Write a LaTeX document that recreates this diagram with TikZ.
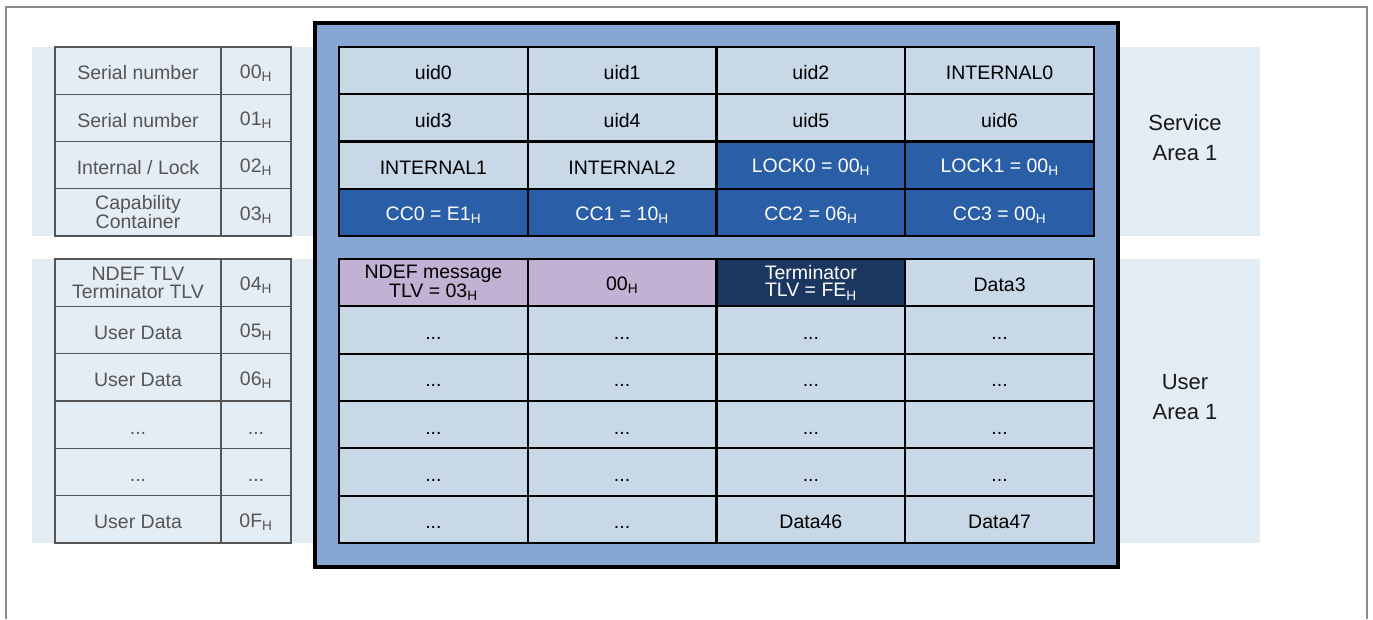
\documentclass[tikz,border=0pt]{standalone}
\usepackage{fontspec}
\setmainfont{Liberation Sans}
\definecolor{frameline}{HTML}{8C8C8C}
\definecolor{bandfill}{HTML}{E4ECF4}
\definecolor{boxfill}{HTML}{87A6D3}
\definecolor{cellfill}{HTML}{C8D8E7}
\definecolor{lockfill}{HTML}{2A5EA6}
\definecolor{ndeffill}{HTML}{C1B1D3}
\definecolor{termfill}{HTML}{1B375F}
\definecolor{addrtext}{HTML}{555555}
\newcommand{\hx}[1]{#1\textsubscript{H}}

\begin{document}
\begin{tikzpicture}
                     [x=1pt,y=-1pt,every node/.style={rectangle,inner sep=0pt,align=center,font=\fontsize{19.5}{17.5}\selectfont},
                      lcell/.style={draw=addrtext,line width=1.2pt,fill=bandfill,text=addrtext,minimum width=166,minimum height=47.3,text height=18.6pt},
                      acell/.style={lcell,minimum width=70},
                      cell/.style={draw=black,line width=2.2pt,fill=cellfill,minimum width=188.75,minimum height=47.3,text height=18.6pt},
                      lock/.style={cell,fill=lockfill,text=white},
                      ndef/.style={cell,fill=ndeffill},
                      term/.style={cell,fill=termfill,text=white},
                      twolines/.style={text height=},
                      area/.style={font=\fontsize{22}{30}\selectfont,text=black!90}]
                     \useasboundingbox (0,0) rectangle (1373,619);
                     \draw[frameline,line width=1.5pt] (6,619) -- (6,7) -- (1367,7) -- (1367,619);
                     % bands behind the two areas
                     \fill[bandfill] (32,47) rectangle (1260,236);
                     \fill[bandfill] (32,259) rectangle (1260,543);
                     % memory block
                     \draw[fill=boxfill,line width=3.2pt] (315,23) rectangle (1118,567);
                     % left side: contents and block address
                     \node[lcell] (sn0) at (138,70.6)  {Serial number};
                     \node[acell] (a0)  at (256,70.6)  {\hx{00}};
                     \node[lcell] (sn1) at (138,117.9) {Serial number};
                     \node[acell] (a1)  at (256,117.9) {\hx{01}};
                     \node[lcell] (il)  at (138,165.1) {Internal / Lock};
                     \node[acell] (a2)  at (256,165.1) {\hx{02}};
                     \node[lcell,twolines] (cap) at (138,212.4) {Capability\\Container};
                     \node[acell] (a3)  at (256,212.4) {\hx{03}};
                     \node[lcell,twolines] (tlv) at (138,282.7) {NDEF TLV\\Terminator TLV};
                     \node[acell] (a4)  at (256,282.7) {\hx{04}};
                     \node[lcell] (ud5) at (138,330)   {User Data};
                     \node[acell] (a5)  at (256,330)   {\hx{05}};
                     \node[lcell] (ud6) at (138,377.3) {User Data};
                     \node[acell] (a6)  at (256,377.3) {\hx{06}};
                     \node[lcell] (e7)  at (138,424.7) {...};
                     \node[acell] (a7)  at (256,424.7) {...};
                     \node[lcell] (e8)  at (138,472)   {...};
                     \node[acell] (a8)  at (256,472)   {...};
                     \node[lcell] (udf) at (138,519.3) {User Data};
                     \node[acell] (af)  at (256,519.3) {\hx{0F}};
                     % service area
                     \node[cell] (uid0) at (433.4,70.6)  {uid0};
                     \node[cell] (uid1) at (622.1,70.6)  {uid1};
                     \node[cell] (uid2) at (810.9,70.6)  {uid2};
                     \node[cell] (int0) at (999.6,70.6)  {INTERNAL0};
                     \node[cell] (uid3) at (433.4,117.9) {uid3};
                     \node[cell] (uid4) at (622.1,117.9) {uid4};
                     \node[cell] (uid5) at (810.9,117.9) {uid5};
                     \node[cell] (uid6) at (999.6,117.9) {uid6};
                     \node[cell] (int1) at (433.4,165.1) {INTERNAL1};
                     \node[cell] (int2) at (622.1,165.1) {INTERNAL2};
                     \node[lock] (lock0) at (810.9,165.1) {LOCK0 = \hx{00}};
                     \node[lock] (lock1) at (999.6,165.1) {LOCK1 = \hx{00}};
                     \node[lock] (cc0) at (433.4,212.4) {CC0 = \hx{E1}};
                     \node[lock] (cc1) at (622.1,212.4) {CC1 = \hx{10}};
                     \node[lock] (cc2) at (810.9,212.4) {CC2 = \hx{06}};
                     \node[lock] (cc3) at (999.6,212.4) {CC3 = \hx{00}};
                     % user area
                     \node[ndef,twolines] (ndef) at (433.4,282.7) {NDEF message\\TLV = \hx{03}};
                     \node[ndef] (len)  at (622.1,282.7) {\hx{00}};
                     \node[term,twolines] (term) at (810.9,282.7) {Terminator\\TLV = \hx{FE}};
                     \node[cell] (d3)   at (999.6,282.7) {Data3};
                     \foreach \r/\y in {1/330,2/377.3,3/424.7,4/472}
                        \foreach \c/\x in {1/433.4,2/622.1,3/810.9,4/999.6}
                           \node[cell] (dots\r\c) at (\x,\y) {...};
                     \node[cell] (dots51) at (433.4,519.3) {...};
                     \node[cell] (dots52) at (622.1,519.3) {...};
                     \node[cell] (d46)    at (810.9,519.3) {Data46};
                     \node[cell] (d47)    at (999.6,519.3) {Data47};
                     % area names
                     \node[area] (svc) at (1185,137.5) {Service\\Area 1};
                     \node[area] (usr) at (1185,397)   {User\\Area 1};
                   \end{tikzpicture}
\end{document}
